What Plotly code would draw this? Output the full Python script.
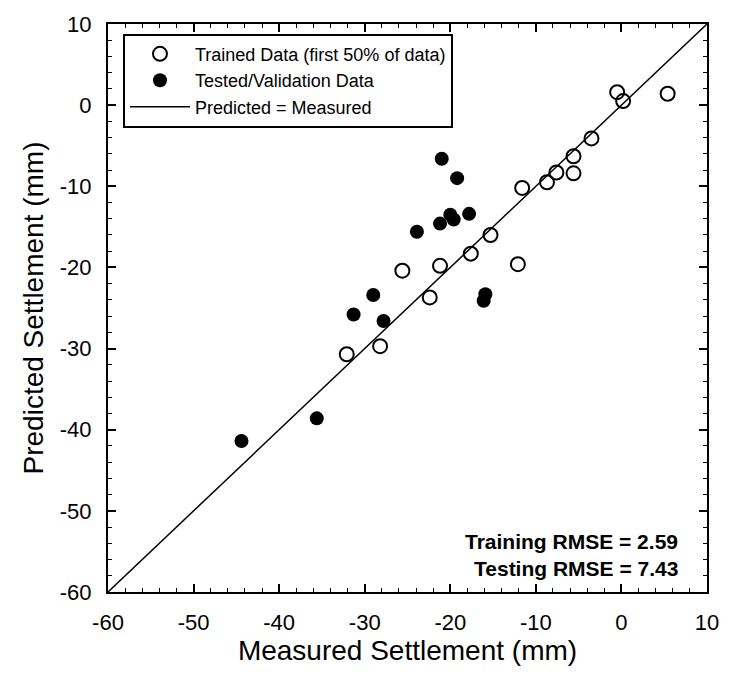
import plotly.graph_objects as go

# Trained data (open circles)
train_measured = [-0.5, 0.2, 5.4, -3.5, -5.6, -5.6, -7.6, -8.7, -11.6, -15.3, -17.6, -12.1, -21.2, -25.6, -22.4, -28.2, -32.1]
train_predicted = [1.6, 0.5, 1.4, -4.1, -6.3, -8.4, -8.3, -9.5, -10.2, -16.0, -18.3, -19.6, -19.8, -20.4, -23.7, -29.7, -30.7]

# Tested / validation data (filled circles)
test_measured = [-21.0, -19.2, -17.8, -20.0, -19.6, -21.2, -23.9, -15.9, -16.1, -29.0, -31.3, -27.8, -35.6, -44.4]
test_predicted = [-6.6, -9.0, -13.4, -13.5, -14.1, -14.6, -15.6, -23.3, -24.1, -23.4, -25.8, -26.6, -38.6, -41.4]

line_x = [-60, 10]
line_y = [-60, 10]

tick_vals = [-60, -50, -40, -30, -20, -10, 0, 10]
tick_text = ["-60", "-50", "-40", "-30", "-20", "-10", "0", "10"]

FONT = "Arial, Liberation Sans, Helvetica, sans-serif"

fig = go.Figure()
fig.add_trace(go.Scatter(
    x=train_measured, y=train_predicted, mode="markers",
    name="Trained Data (first 50% of data)",
    marker=dict(symbol="circle-open", size=14, color="black", line=dict(width=2, color="black")),
))
fig.add_trace(go.Scatter(
    x=test_measured, y=test_predicted, mode="markers",
    name="Tested/Validation Data",
    marker=dict(symbol="circle", size=14, color="black"),
))
fig.add_trace(go.Scatter(
    x=line_x, y=line_y, mode="lines",
    name="Predicted = Measured",
    line=dict(color="black", width=1.5),
))

axis_common = dict(
    showline=True, linecolor="black", linewidth=2, mirror="allticks",
    ticks="inside", ticklen=8, tickwidth=1.5, tickcolor="black",
    minor=dict(ticks="inside", ticklen=4, tickwidth=1, tickcolor="black", dtick=2, tick0=-60),
    showgrid=False, zeroline=False,
    tickfont=dict(family=FONT, size=22, color="black"),
    tickmode="array", tickvals=tick_vals, ticktext=tick_text,
    ticklabelstandoff=10,
)

fig.update_xaxes(range=[-60, 10],
                 title=dict(text="Measured Settlement (mm)", font=dict(family=FONT, size=28, color="black"), standoff=6),
                 **axis_common)
fig.update_yaxes(range=[-60, 10],
                 title=dict(text="Predicted Settlement (mm)", font=dict(family=FONT, size=28, color="black"), standoff=8),
                 **axis_common)

fig.add_annotation(xref="paper", yref="paper", x=0.955, y=(592 - 541) / 574, xanchor="right", yanchor="middle",
                   text="<b>Training RMSE = 2.59</b>", showarrow=False,
                   font=dict(family=FONT, size=21, color="black"))
fig.add_annotation(xref="paper", yref="paper", x=0.955, y=(592 - 568) / 574, xanchor="right", yanchor="middle",
                   text="<b>Testing RMSE = 7.43</b>", showarrow=False,
                   font=dict(family=FONT, size=21, color="black"))

fig.update_layout(
    width=731, height=676,
    margin=dict(l=108, r=16, t=18, b=84),
    paper_bgcolor="white", plot_bgcolor="white",
    showlegend=True,
    legend=dict(x=0.025, y=0.983, xanchor="left", yanchor="top",
                bordercolor="black", borderwidth=2, bgcolor="white",
                font=dict(family=FONT, size=18, color="black"),
                tracegroupgap=0, itemwidth=60),
    font=dict(family=FONT, color="black"),
)

fig.write_html("out.html")
